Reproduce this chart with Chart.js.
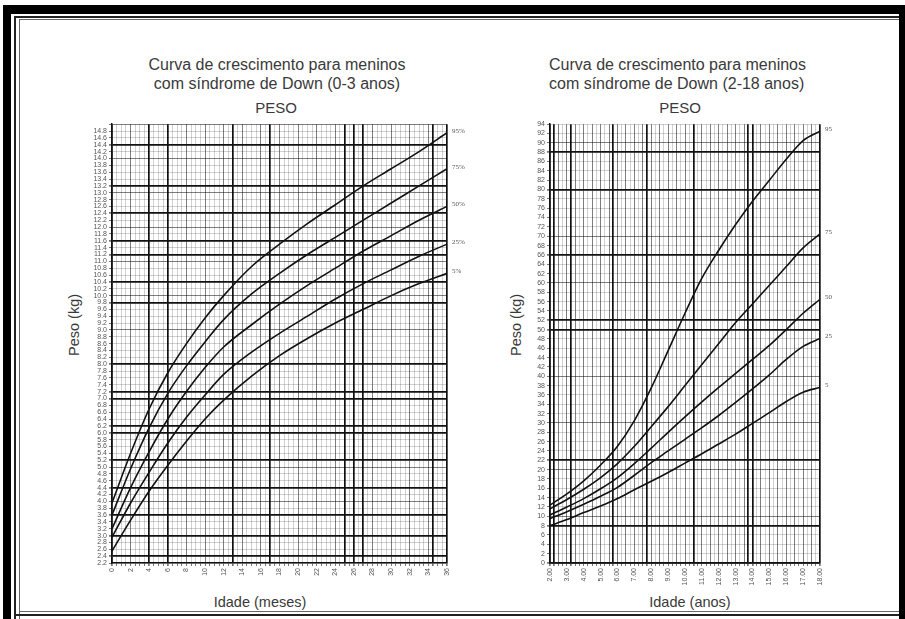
<!DOCTYPE html>
<html>
<head>
<meta charset="utf-8">
<script src="https://cdn.jsdelivr.net/npm/chart.js@4.4.0/dist/chart.umd.min.js"></script>
<style>
  body { margin:0; width:905px; height:619px; background:#fff; position:relative; overflow:hidden;
         font-family:"Liberation Sans", Arial, sans-serif; color:#3a3a3a; }
  .bar { position:absolute; background:#000; }
  .ln  { position:absolute; background:#222; }
  .txt { position:absolute; text-align:center; white-space:nowrap; }
  .ttl { font-size:16px; line-height:19px; }
  .peso { font-size:15px; }
  .ax { font-size:14.5px; }
  canvas { position:absolute; }
</style>
</head>
<body>
<!-- moldura -->
<div class="bar" style="left:3px;top:5px;width:902px;height:9px"></div>
<div class="bar" style="left:3px;top:5px;width:8px;height:614px"></div>
<div class="ln" style="left:14px;top:16px;width:891px;height:2px"></div>
<div class="ln" style="left:14px;top:16px;width:2px;height:603px"></div>
<div class="ln" style="left:19px;top:19px;width:886px;height:1px;background:#666"></div>
<div class="ln" style="left:19px;top:19px;width:1px;height:600px;background:#666"></div>
<div class="ln" style="left:19px;top:611px;width:886px;height:1px;background:#666"></div>
<div class="ln" style="left:14px;top:614px;width:891px;height:2px"></div>
<div class="bar" style="left:899px;top:5px;width:6px;height:614px"></div>

<div class="txt ttl" style="left:146px;top:55px;width:262px">Curva de crescimento para meninos<br>com síndrome de Down (0-3 anos)</div>
<div class="txt peso" style="left:246px;top:99px;width:60px">PESO</div>
<div class="txt ax" style="left:14px;top:317px;width:120px;transform:rotate(-90deg)">Peso (kg)</div>
<div class="txt ax" style="left:190px;top:594px;width:140px">Idade (meses)</div>

<div class="txt ttl" style="left:549px;top:55px;width:262px;text-align:left">Curva de crescimento para meninos<br>com síndrome de Down (2-18 anos)</div>
<div class="txt peso" style="left:650px;top:99px;width:60px">PESO</div>
<div class="txt ax" style="left:456px;top:317px;width:120px;transform:rotate(-90deg)">Peso (kg)</div>
<div class="txt ax" style="left:630px;top:594px;width:120px">Idade (anos)</div>

<canvas id="c03" width="390" height="472" style="left:80px;top:118px"></canvas>
<canvas id="c218" width="315" height="472" style="left:530px;top:118px"></canvas>

<script>
// ---- 0-3 anos (meses / kg)
const MESES = [0, 2, 4, 6, 8, 10, 12, 15, 18, 21, 24, 27, 30, 33, 36];
const P95_M = [3.95, 5.4, 6.7, 7.75, 8.6, 9.35, 10.0, 10.85, 11.5, 12.1, 12.65, 13.2, 13.7, 14.2, 14.75];
const P75_M = [3.6, 4.95, 6.15, 7.15, 7.95, 8.65, 9.3, 10.05, 10.65, 11.2, 11.7, 12.2, 12.7, 13.2, 13.7];
const P50_M = [3.2, 4.4, 5.45, 6.4, 7.2, 7.9, 8.5, 9.15, 9.75, 10.3, 10.8, 11.3, 11.75, 12.2, 12.6];
const P25_M = [2.95, 3.95, 4.85, 5.7, 6.45, 7.1, 7.7, 8.35, 8.9, 9.4, 9.9, 10.35, 10.75, 11.15, 11.5];
const P5_M  = [2.55, 3.45, 4.3, 5.05, 5.75, 6.4, 6.95, 7.65, 8.25, 8.75, 9.2, 9.6, 10.0, 10.35, 10.65];
const ROTULOS_M = ['95%', '75%', '50%', '25%', '5%'];

// ---- 2-18 anos (anos / kg)
const ANOS = [2, 3, 4, 5, 6, 7, 8, 9, 10, 11, 12, 13, 14, 15, 16, 17, 18];
const P95_A = [12.4, 14.8, 17.6, 21.0, 25.0, 30.5, 37.5, 45.5, 53.5, 61.0, 67.0, 72.5, 77.5, 82.0, 86.5, 90.5, 92.5];
const P75_A = [11.6, 13.6, 15.8, 18.3, 21.3, 25.0, 29.2, 33.5, 38.0, 42.5, 47.0, 51.5, 55.5, 59.5, 63.5, 67.5, 70.5];
const P50_A = [10.3, 12.0, 13.8, 15.9, 18.3, 21.3, 24.6, 28.0, 31.3, 34.5, 37.6, 40.6, 43.6, 46.6, 50.0, 53.5, 56.5];
const P25_A = [9.5, 11.0, 12.6, 14.3, 16.2, 18.8, 21.5, 24.0, 26.5, 29.0, 31.6, 34.4, 37.3, 40.3, 43.6, 46.4, 48.1];
const P5_A  = [8.0, 9.3, 10.8, 12.2, 13.8, 15.7, 17.5, 19.4, 21.4, 23.4, 25.5, 27.6, 29.9, 32.2, 34.6, 36.6, 37.6];
const ROTULOS_A = ['95', '75', '50', '25', '5'];

// linhas grossas da grade (como no papel original)
const GROSSAS_X_M = [0, 4, 6, 13, 17, 25, 26, 27, 34.5, 36];
const GROSSAS_Y_M = [2.4, 3.0, 3.6, 4.4, 5.2, 6.0, 6.2, 7.0, 7.2, 8.0, 9.8, 10.4, 11.2, 11.6, 12.4, 13.2, 14.4];
const GROSSAS_X_A = [2, 2.25, 3.25, 5.75, 7.75, 10.5, 13.75, 14, 18];
const GROSSAS_Y_A = [0, 8, 22, 50, 52, 66, 80, 88];

const near = (v, list) => list.some(g => Math.abs(g - v) < 1e-6);

function gridStyle(thick, medium) {
  return {
    color: c => {
      const v = c.tick ? c.tick.value : 0;
      if (near(v, thick)) return '#111';
      if (medium(v)) return 'rgba(0,0,0,0.5)';
      return 'rgba(0,0,0,0.18)';
    },
    lineWidth: c => {
      const v = c.tick ? c.tick.value : 0;
      return near(v, thick) ? 1.7 : 1;
    },
    drawTicks: true, tickLength: 3, tickColor: '#777'
  };
}

const curveLabels = {
  id: 'curveLabels',
  afterDatasetsDraw(chart, args, opts) {
    const { ctx } = chart;
    ctx.save();
    ctx.font = '7px "Liberation Serif", serif';
    ctx.fillStyle = '#555';
    ctx.textBaseline = 'middle';
    chart.data.datasets.forEach((ds, i) => {
      const meta = chart.getDatasetMeta(i);
      const p = meta.data[meta.data.length - 1];
      ctx.fillText(opts.labels[i], p.x + 5, p.y - 2);
    });
    ctx.restore();
  }
};

function mkDatasets(xs, series) {
  return series.map(s => ({
    data: xs.map((x, i) => ({ x, y: s[i] })),
    borderColor: '#111', borderWidth: 1.6, pointRadius: 0,
    cubicInterpolationMode: 'monotone', fill: false
  }));
}

function mkChart(id, cfg) {
  return new Chart(document.getElementById(id), {
    type: 'line',
    data: { datasets: mkDatasets(cfg.xs, cfg.series) },
    plugins: [curveLabels],
    options: {
      responsive: false, animation: false,
      layout: { padding: { top: 5, right: cfg.padRight, bottom: 0, left: 0 } },
      plugins: { legend: { display: false }, tooltip: { enabled: false }, curveLabels: { labels: cfg.labels } },
      scales: {
        x: {
          type: 'linear', min: cfg.xMin, max: cfg.xMax,
          afterFit: s => { s.height = 27; },
          afterBuildTicks: s => { s.ticks = cfg.xTicks.map(v => ({ value: v })); },
          ticks: {
            autoSkip: false, minRotation: 90, maxRotation: 90, padding: 2,
            color: '#555', font: { size: 7, family: '"Liberation Sans", Arial' },
            callback: cfg.xLabel
          },
          grid: gridStyle(cfg.thickX, cfg.medX),
          border: { color: '#111', width: 1.5 }
        },
        y: {
          type: 'linear', min: cfg.yMin, max: cfg.yMax,
          afterFit: s => { s.width = cfg.yWidth; },
          afterBuildTicks: s => { s.ticks = cfg.yTicks.map(v => ({ value: v })); },
          ticks: {
            autoSkip: false, padding: 2,
            color: '#555', font: { size: 7, family: '"Liberation Sans", Arial' },
            callback: cfg.yLabel
          },
          grid: gridStyle(cfg.thickY, cfg.medY),
          border: { color: '#111', width: 1.5 }
        }
      }
    }
  });
}

const range = (a, b, step) => {
  const out = [];
  for (let i = 0; a + i * step <= b + 1e-9; i++) out.push(+(a + i * step).toFixed(3));
  return out;
};

mkChart('c03', {
  xs: MESES, series: [P95_M, P75_M, P50_M, P25_M, P5_M], labels: ROTULOS_M,
  padRight: 23, yWidth: 32,
  xMin: 0, xMax: 36, xTicks: range(0, 36, 0.5),
  xLabel: v => (v % 2 === 0 ? String(v) : ''),
  yMin: 2.2, yMax: 15.0, yTicks: range(2.2, 15.0, 0.2),
  yLabel: v => (v < 14.95 ? v.toFixed(1) : ''),
  thickX: GROSSAS_X_M, medX: v => v % 2 === 0,
  thickY: GROSSAS_Y_M, medY: v => Math.abs(v - Math.round(v)) < 1e-6
});

mkChart('c218', {
  xs: ANOS, series: [P95_A, P75_A, P50_A, P25_A, P5_A], labels: ROTULOS_A,
  padRight: 25, yWidth: 20,
  xMin: 2, xMax: 18, xTicks: range(2, 18, 0.25),
  xLabel: v => (Number.isInteger(v) ? v.toFixed(2) : ''),
  yMin: 0, yMax: 94, yTicks: range(0, 94, 2),
  yLabel: v => String(v),
  thickX: GROSSAS_X_A, medX: v => v % 1 === 0 || v % 1 === 0.5,
  thickY: GROSSAS_Y_A, medY: v => v % 10 === 0
});
</script>
</body>
</html>
